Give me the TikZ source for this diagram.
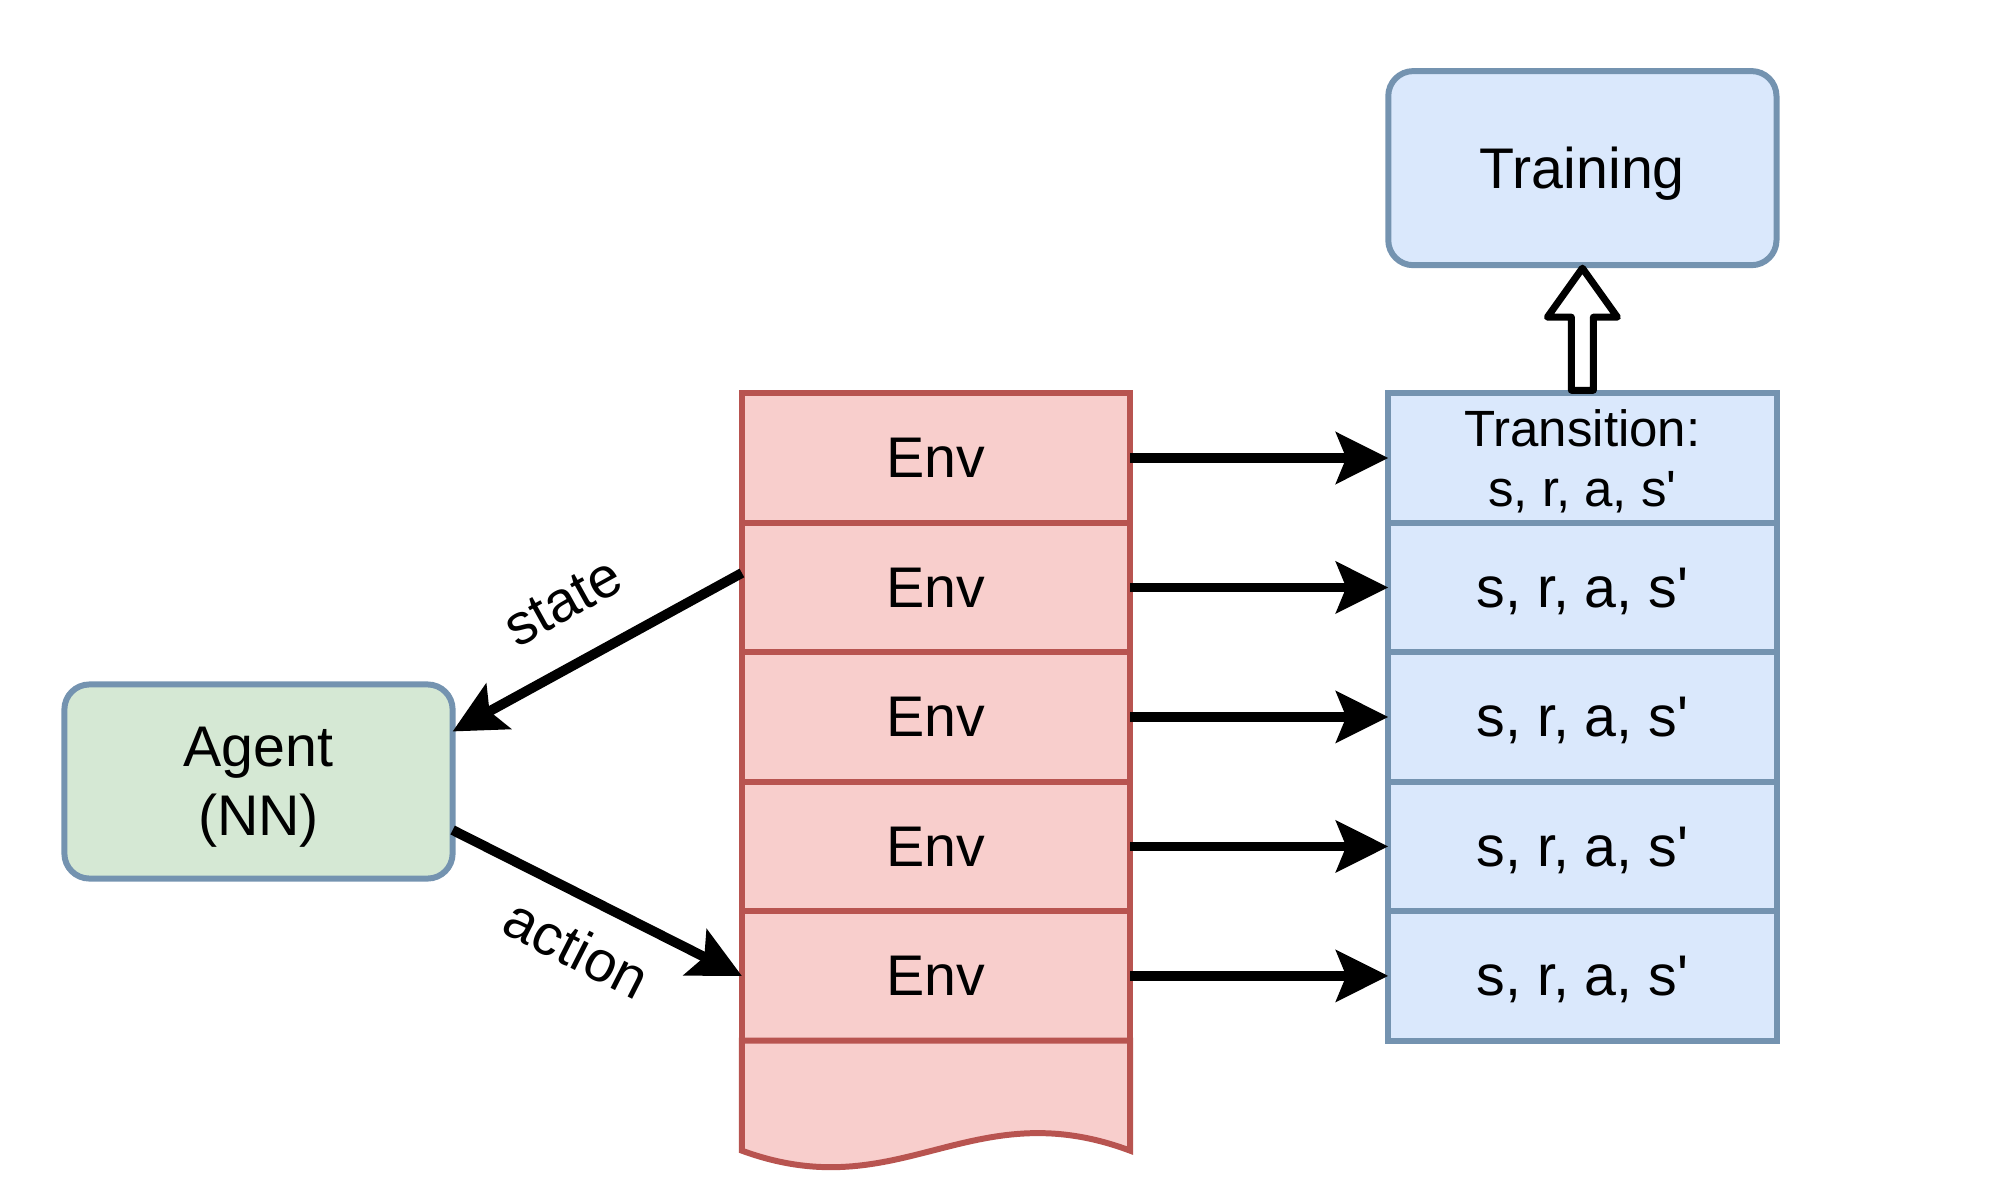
\documentclass[tikz,border=0pt]{standalone}
\usepackage{fontspec}
\usepackage{tikz}
\usetikzlibrary{calc,arrows.meta,positioning}
\newfontfamily\diagfont{Liberation Sans}
\definecolor{envFill}{HTML}{F8CECC}
\definecolor{envLine}{HTML}{B85450}
\definecolor{bufFill}{HTML}{DAE8FC}
\definecolor{bufLine}{HTML}{7493B0}
\definecolor{agentFill}{HTML}{D5E8D4}

\begin{document}
\begin{tikzpicture}[x=0.01cm, y=-0.01cm,
    every node/.style={font=\diagfont\fontsize{16.3}{19.6}\selectfont},
    envbox/.style={draw=envLine, fill=envFill, line width=1.7pt, outer sep=0pt, inner sep=0pt,
      minimum width=3.88cm, minimum height=1.294cm},
    bufbox/.style={draw=bufLine, fill=bufFill, line width=1.7pt, outer sep=0pt, inner sep=0pt,
      minimum width=3.88cm, minimum height=1.294cm, align=center, text depth=0pt},
    roundbox/.style={draw=bufLine, line width=1.7pt, rounded corners=2.5mm, outer sep=0pt,
      minimum width=3.88cm, minimum height=1.94cm, align=center, text depth=0pt},
    conn/.style={line width=2.8pt, -{Stealth[length=5.2mm, width=5.1mm, inset=1mm]}}]
  \useasboundingbox (0,0) rectangle (2000,1203);
  % Environments stacked in one column
  \node[envbox] (e1) at (936,458) {Env};
  \foreach \i [remember=\i as \j (initially 1)] in {2,...,5}
    \node[envbox, below=0pt of e\j] (e\i) {Env};
  % Torn bottom of the env column
  \draw[draw=envLine, fill=envFill, line width=1.7pt]
    (e5.south west) -- ($(e5.south west)+(0,110)$)
    .. controls ($(e5.south west)+(158,168)$) and ($(e5.south west)+(228,50)$) ..
    ($(e5.south east)+(0,110)$) -- (e5.south east) -- cycle;
  % Replay buffer column
  \node[bufbox, right=2.58cm of e1, font=\diagfont\fontsize{14.5}{17}\selectfont] (t1) {Transition:\\s, r, a, s'};
  \foreach \i [remember=\i as \j (initially 1)] in {2,...,5}
    \node[bufbox, below=0pt of t\j] (t\i) {s, r, a, s'};
  \node[roundbox, fill=bufFill, above=1.28cm of t1] (training) {Training};
  % Agent
  \node[roundbox, fill=agentFill] (agent) at (258.5,781.5) {Agent\\(NN)};
  % Transitions go to the buffer
  \foreach \i in {1,...,5}
    \draw[conn] (e\i) -- (t\i);
  % Loop between agent and env
  \draw[conn] ([yshift=1.45mm]e2.west) -- ([yshift=5mm]agent.east);
  \draw[conn] ([yshift=-4.85mm]agent.east) -- (e5.west);
  \node[rotate=29] (statelbl) at (563,602) {state};
  \node[rotate=-27] (actionlbl) at (577,948) {action};
  % Hollow arrow up to training
  \draw[line width=2pt, fill=white, line join=round]
    ($(t1.north)+(-11,-3)$) -- ($(training.south)+(-11,52)$) -- ($(training.south)+(-35,52)$)
    -- ($(training.south)+(0,3)$) -- ($(training.south)+(35,52)$) -- ($(training.south)+(11,52)$)
    -- ($(t1.north)+(11,-3)$) -- cycle;
\end{tikzpicture}
\end{document}
